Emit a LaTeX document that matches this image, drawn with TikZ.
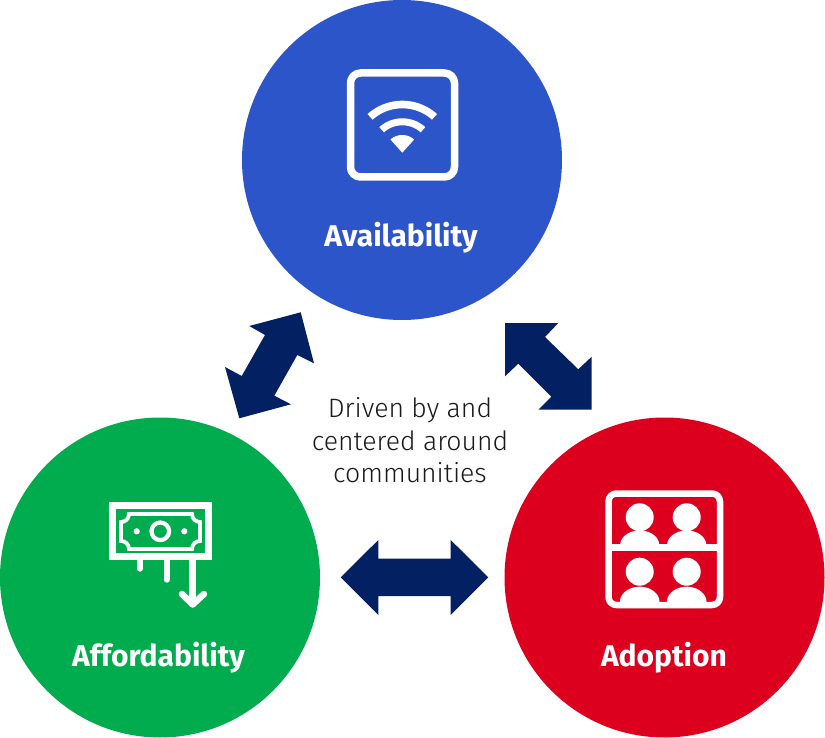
\documentclass[tikz,border=0pt]{standalone}
\usepackage{fontspec}
\setmainfont{Fira Sans}
\newfontfamily\lightfont{Fira Sans Light}
\definecolor{bluec}{HTML}{2B55C9}
\definecolor{greenc}{HTML}{00AC4E}
\definecolor{redc}{HTML}{DC001E}
\definecolor{navyc}{HTML}{022062}
\tikzset{
  bigcircle/.style={circle,minimum size=320pt,inner sep=0pt,outer sep=0pt},
  title/.style={text=white,font=\fontsize{30}{33}\selectfont\bfseries,inner sep=0pt},
  mid/.style={text=black!90,font=\lightfont\fontsize{26.6}{32.5}\selectfont,inner sep=0pt,align=center},
  dbl/.style={fill=navyc,draw=none},
  ico/.style={draw=white,line join=round},
  icofill/.style={fill=white,draw=none}
}
\begin{document}
\begin{tikzpicture}[x=1pt,y=-1pt]
\useasboundingbox (0,0) rectangle (825,738);
\node[bigcircle,fill=bluec] (avail) at (402,160) {};
\node[bigcircle,fill=greenc] (afford) at (160,577.5) {};
\node[bigcircle,fill=redc] (adopt) at (664.5,577.5) {};
\node[title] (availt) at (401,238) {Availability};
\node[title] (affordt) at (158.5,658) {Affordability};
\node[title] (adoptt) at (664,658) {Adoption};
\node[mid] (center) at (410,440.5) {Driven by and\\centered around\\communities};
% double arrows
\fill[dbl] (300.7,312.3) -- (249.3,326) -- (265,335) -- (241.7,376) -- (225,367) -- (239.3,418.3) -- (291,404.3) -- (274.3,395.7) -- (297.3,355) -- (314,363.3) -- cycle;
\fill[dbl] (505,323) -- (558.3,323) -- (545,337) -- (578.3,369.3) -- (591.7,356.7) -- (591.7,409.7) -- (538.3,409.7) -- (551.3,396.7) -- (518.3,363.7) -- (505,376.3) -- cycle;
\fill[dbl] (340.7,577.3) -- (378.3,540) -- (378.3,558.7) -- (450.7,558.7) -- (450.7,540) -- (488.3,577.3) -- (450.7,615) -- (450.7,596) -- (378.3,596) -- (378.3,615) -- cycle;
% wifi icon
\draw[ico,line width=7.5pt,rounded corners=10pt] (350.5,73) rectangle (454.5,177);
\fill[icofill] plot[domain=48:132,samples=24] ({402.3+52*cos(\x)},{152.7-52*sin(\x)}) -- plot[domain=132:48,samples=24] ({402.3+44.4*cos(\x)},{152.7-44.4*sin(\x)}) -- cycle;
\fill[icofill] plot[domain=48:132,samples=24] ({402.3+34.4*cos(\x)},{152.7-34.4*sin(\x)}) -- plot[domain=132:48,samples=24] ({402.3+27.4*cos(\x)},{152.7-27.4*sin(\x)}) -- cycle;
\fill[icofill] (402.3,152.7) -- plot[domain=132:48,samples=16] ({402.3+17.7*cos(\x)},{152.7-17.7*sin(\x)}) -- cycle;
% money icon
\draw[ico,line width=6.7pt,line join=miter] (112.3,505.5) rectangle (208.4,556.8);
\draw[ico,line width=3.8pt,line join=miter] (129,514) -- (192,514) .. controls (192,519) and (196,522) .. (200,522) -- (200,541) .. controls (196,541) and (192,544) .. (192,549) -- (129,549) .. controls (129,544) and (125,541) .. (121,541) -- (121,522) .. controls (125,522) and (129,519) .. (129,514) -- cycle;
\draw[ico,line width=4.2pt] (160.3,531.3) circle[radius=8.8pt];
\fill[icofill] (136.7,531.3) circle[radius=3.1pt] (184.3,531.3) circle[radius=3.1pt];
\draw[ico,line width=6pt,line cap=round] (139.7,558) -- (139.7,568.7);
\draw[ico,line width=6pt,line cap=round] (166.7,558) -- (166.7,579.7);
\draw[ico,line width=6.5pt,line cap=round] (192.7,558) -- (192.7,603);
\draw[ico,line width=6.5pt,line cap=round] (182,594) -- (192.7,604.5) -- (204,594);
% people icon
\draw[ico,line width=6.5pt,rounded corners=8pt] (608.5,493.5) rectangle (720,605);
\draw[ico,line width=6.7pt] (608.5,547.7) -- (720,547.7);
\foreach \cx in {639.7,686.7}{
  \fill[icofill] (\cx,517.3) circle[radius=14pt];
  \fill[icofill] (\cx,571.7) circle[radius=14pt];
  \fill[icofill] plot[domain=0:180,samples=30] ({\cx+19.5*cos(\x)},{545-14.5*sin(\x)}) -- cycle;
  \fill[icofill] plot[domain=0:180,samples=30] ({\cx+19.8*cos(\x)},{602-15.3*sin(\x)}) -- cycle;
}
\end{tikzpicture}
\end{document}
